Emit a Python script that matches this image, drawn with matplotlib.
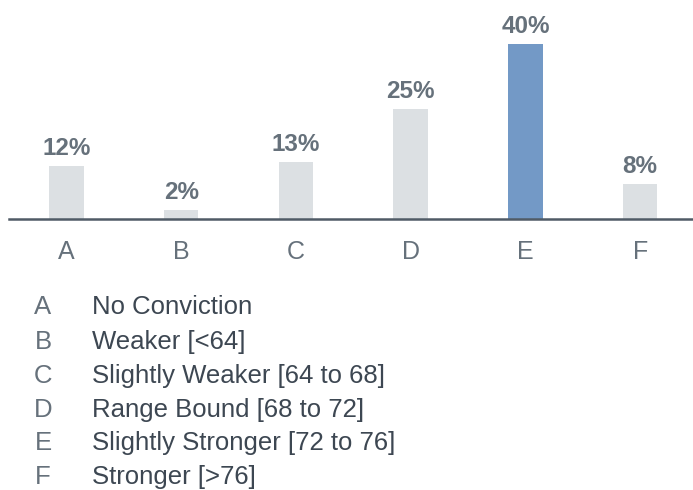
import matplotlib.pyplot as plt

# data
categories = ["A", "B", "C", "D", "E", "F"]
values = [12, 2, 13, 25, 40, 8]
descriptions = [
    "No Conviction",
    "Weaker [<64]",
    "Slightly Weaker [64 to 68]",
    "Range Bound [68 to 72]",
    "Slightly Stronger [72 to 76]",
    "Stronger [>76]",
]
highlight = "E"

plt.rcParams["font.family"] = ["Liberation Sans", "DejaVu Sans"]

GREY_BAR = "#DCE0E3"
BLUE_BAR = "#7399C6"
LABEL_C = "#66717B"
TEXT_C = "#3D4752"
AXIS_C = "#505B66"

W, H = 693, 490
fig = plt.figure(figsize=(W / 100, H / 100), dpi=100)
ax = fig.add_axes([9 / W, (H - 219) / H, 1 - 9 / W, 219 / H])

colors = [BLUE_BAR if c == highlight else GREY_BAR for c in categories]
x = range(len(categories))
bars = ax.bar(x, values, width=0.3, color=colors, zorder=2)

for b, v in zip(bars, values):
    ax.annotate(f"{v}%", xy=(b.get_x() + b.get_width() / 2, v),
                xytext=(0, 8), textcoords="offset points",
                ha="center", va="baseline", fontsize=17.5,
                fontweight="bold", color=LABEL_C)

ax.set_xlim(-0.5, 5.46)
ax.set_ylim(0, 50)
ax.set_xticks(list(x))
ax.set_xticklabels(categories, fontsize=18, color=LABEL_C)
ax.tick_params(axis="x", length=0, pad=15)
ax.set_yticks([])
for s in ["top", "left", "right"]:
    ax.spines[s].set_visible(False)
ax.spines["bottom"].set_color(AXIS_C)
ax.spines["bottom"].set_linewidth(1.8)
ax.spines["bottom"].set_zorder(3)
ax.patch.set_alpha(0)

# key below the chart
row_y = [307, 342, 376, 410, 443, 477]
for cat, desc, py in zip(categories, descriptions, row_y):
    fig.text(43 / W, 1 - py / H, cat, ha="center", va="center",
             fontsize=18.5, color=LABEL_C)
    fig.text(92 / W, 1 - py / H, desc, ha="left", va="center",
             fontsize=18.5, color=TEXT_C)

fig.savefig("out.png", dpi=100)
